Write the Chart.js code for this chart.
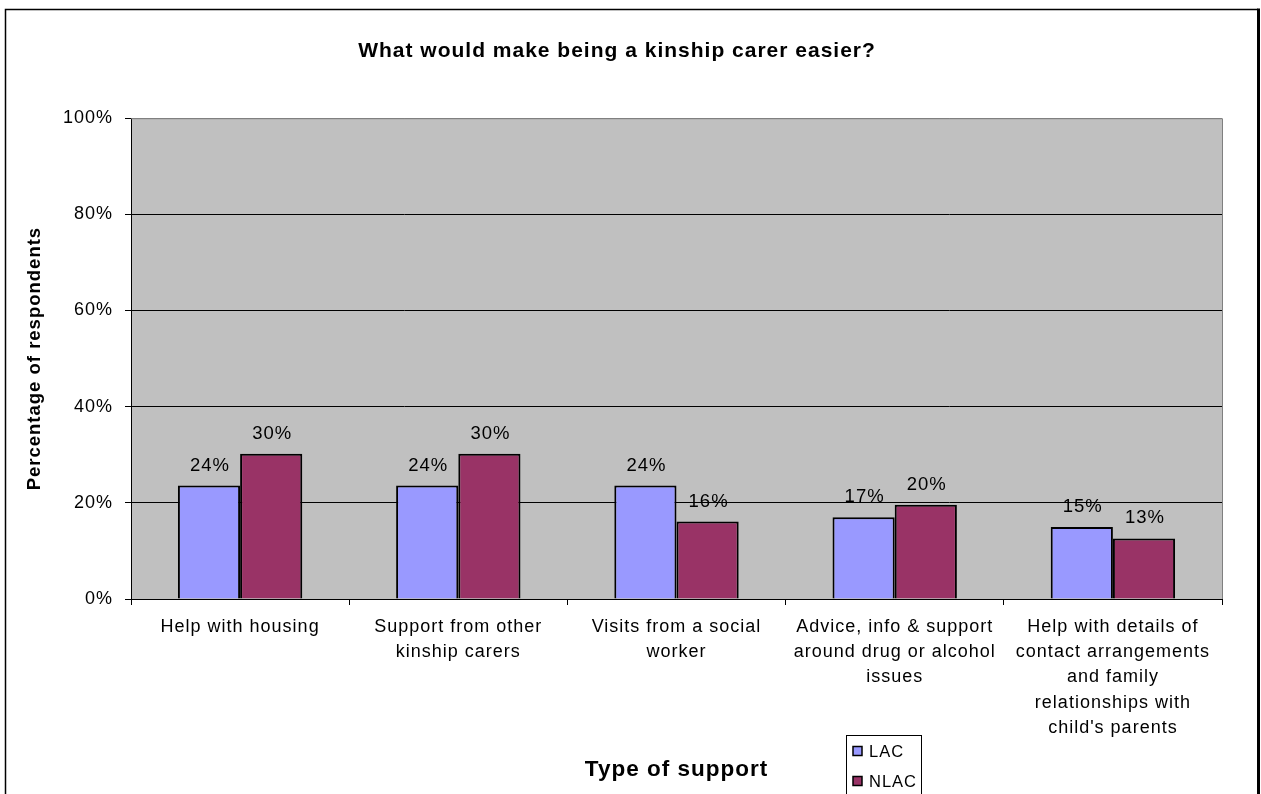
<!DOCTYPE html>
<html>
<head>
<meta charset="utf-8">
<script src="https://cdn.jsdelivr.net/npm/chart.js@4/dist/chart.umd.min.js"></script>
<style>
  html, body { margin: 0; padding: 0; background: #fff; }
</style>
</head>
<body>
<canvas id="chart" width="1261" height="794"></canvas>
<script>
const chartTitle = 'What would make being a kinship carer easier?'
const xTitle = 'Type of support'
const yTitle = 'Percentage of respondents'
const categories = [
  ['Help with housing'],
  ['Support from other', 'kinship carers'],
  ['Visits from a social', 'worker'],
  ['Advice, info & support', 'around drug or alcohol', 'issues'],
  ['Help with details of', 'contact arrangements', 'and family', 'relationships with', "child's parents"]
]
const seriesNames = ['LAC', 'NLAC']
const lacValues = [23.6, 23.6, 23.6, 17.0, 15.0]
const nlacValues = [30.2, 30.2, 16.1, 19.6, 12.6]
const yMin = 0
const yMax = 100
const yStep = 20

const FONT = "'Liberation Sans', Arial, sans-serif"
const SPACING = '1px'

// canvas letter spacing gets reset on resize, so set it before measuring and drawing
const spacing = {
  id: 'spacing',
  beforeUpdate(chart) { chart.ctx.letterSpacing = SPACING },
  beforeDraw(chart) { chart.ctx.letterSpacing = SPACING }
}

const plotBg = {
  id: 'plotBg',
  beforeDraw(chart) {
    const {ctx, chartArea: a} = chart
    ctx.save()
    ctx.fillStyle = '#C0C0C0'
    ctx.fillRect(a.left, a.top, a.right - a.left, a.bottom - a.top)
    ctx.restore()
  },
  afterDraw(chart) {
    const {ctx, chartArea: a} = chart
    ctx.save()
    ctx.strokeStyle = '#808080'
    ctx.lineWidth = 1
    ctx.beginPath()
    ctx.moveTo(a.left, a.top + 0.5)
    ctx.lineTo(a.right + 0.5, a.top + 0.5)
    ctx.lineTo(a.right + 0.5, a.bottom)
    ctx.stroke()
    ctx.restore()
  }
}

const barLabels = {
  id: 'barLabels',
  afterDatasetsDraw(chart) {
    const ctx = chart.ctx
    ctx.save()
    ctx.font = '18.5px ' + FONT
    ctx.fillStyle = '#000'
    ctx.textAlign = 'center'
    ctx.textBaseline = 'alphabetic'
    chart.data.datasets.forEach((ds, i) => {
      chart.getDatasetMeta(i).data.forEach((bar, j) => {
        ctx.fillText(Math.round(ds.data[j]) + '%', bar.x + 1, bar.y - 15)
      })
    })
    ctx.restore()
  }
}

const boxLegend = {
  id: 'boxLegend',
  afterDraw(chart) {
    const ctx = chart.ctx
    ctx.save()
    ctx.strokeStyle = '#000'
    ctx.lineWidth = 1
    ctx.fillStyle = '#fff'
    ctx.fillRect(846, 735, 75, 70)
    ctx.strokeRect(846.5, 735.5, 75, 70)
    ctx.font = '16.5px ' + FONT
    ctx.textBaseline = 'middle'
    ctx.textAlign = 'left'
    chart.data.datasets.forEach((ds, i) => {
      const cy = 751 + i * 30
      ctx.fillStyle = ds.backgroundColor
      ctx.fillRect(853, cy - 4.5, 9, 9)
      ctx.lineWidth = 1.5
      ctx.strokeRect(853, cy - 4.5, 9, 9)
      ctx.fillStyle = '#000'
      ctx.fillText(ds.label, 869, cy + 1)
    })
    ctx.restore()
  }
}

const frame = {
  id: 'frame',
  afterDraw(chart) {
    const ctx = chart.ctx
    ctx.save()
    ctx.strokeStyle = '#000'
    ctx.lineWidth = 1.5
    ctx.beginPath()
    ctx.moveTo(5.5, 800)
    ctx.lineTo(5.5, 9.5)
    ctx.lineTo(1258, 9.5)
    ctx.stroke()
    ctx.lineWidth = 3
    ctx.beginPath()
    ctx.moveTo(1258.5, 8.5)
    ctx.lineTo(1258.5, 800)
    ctx.stroke()
    ctx.restore()
  }
}

new Chart(document.getElementById('chart'), {
  type: 'bar',
  data: {
    labels: categories,
    datasets: [
      {
        label: seriesNames[0],
        data: lacValues,
        backgroundColor: '#9999FF',
        borderColor: '#000',
        borderWidth: 2
      },
      {
        label: seriesNames[1],
        data: nlacValues,
        backgroundColor: '#993366',
        borderColor: '#000',
        borderWidth: 2
      }
    ]
  },
  plugins: [spacing, plotBg, barLabels, boxLegend, frame],
  options: {
    responsive: false,
    animation: false,
    layout: { padding: { left: 12, right: 39, top: 9, bottom: 0 } },
    datasets: {
      bar: { barPercentage: 1, categoryPercentage: 0.57 }
    },
    plugins: {
      legend: { display: false },
      tooltip: { enabled: false },
      title: {
        display: true,
        text: chartTitle,
        color: '#000',
        font: { family: FONT, size: 21, weight: 'bold', lineHeight: 1.2 },
        padding: { top: 30, bottom: 54 }
      }
    },
    scales: {
      x: {
        afterFit(scale) { scale.height = 195 },
        grid: {
          offset: true,
          drawOnChartArea: false,
          drawTicks: true,
          tickLength: 6,
          tickColor: '#000'
        },
        border: { display: true, color: '#000', width: 1 },
        ticks: {
          color: '#000',
          autoSkip: false,
          maxRotation: 0,
          padding: 9,
          font: { family: FONT, size: 18, lineHeight: 1.41 }
        },
        title: {
          display: true,
          text: xTitle,
          color: '#000',
          font: { family: FONT, size: 22.5, weight: 'bold', lineHeight: 1.2 },
          padding: { top: 0, bottom: 11 }
        }
      },
      y: {
        min: yMin,
        max: yMax,
        afterFit(scale) { scale.width = 119 },
        grid: {
          color: ctx => ctx.tick && ctx.tick.value === yMax ? '#808080' : '#000',
          lineWidth: 1,
          tickLength: 6,
          tickColor: '#000'
        },
        border: { display: true, color: '#000', width: 1 },
        ticks: {
          stepSize: yStep,
          color: '#000',
          padding: 12,
          font: { family: FONT, size: 18 },
          callback: v => v + '%'
        },
        title: {
          display: true,
          text: yTitle,
          color: '#000',
          font: { family: FONT, size: 18.5, weight: 'bold', lineHeight: 1.2 },
          padding: { top: 12, bottom: 0 }
        }
      }
    }
  }
})
</script>
</body>
</html>
